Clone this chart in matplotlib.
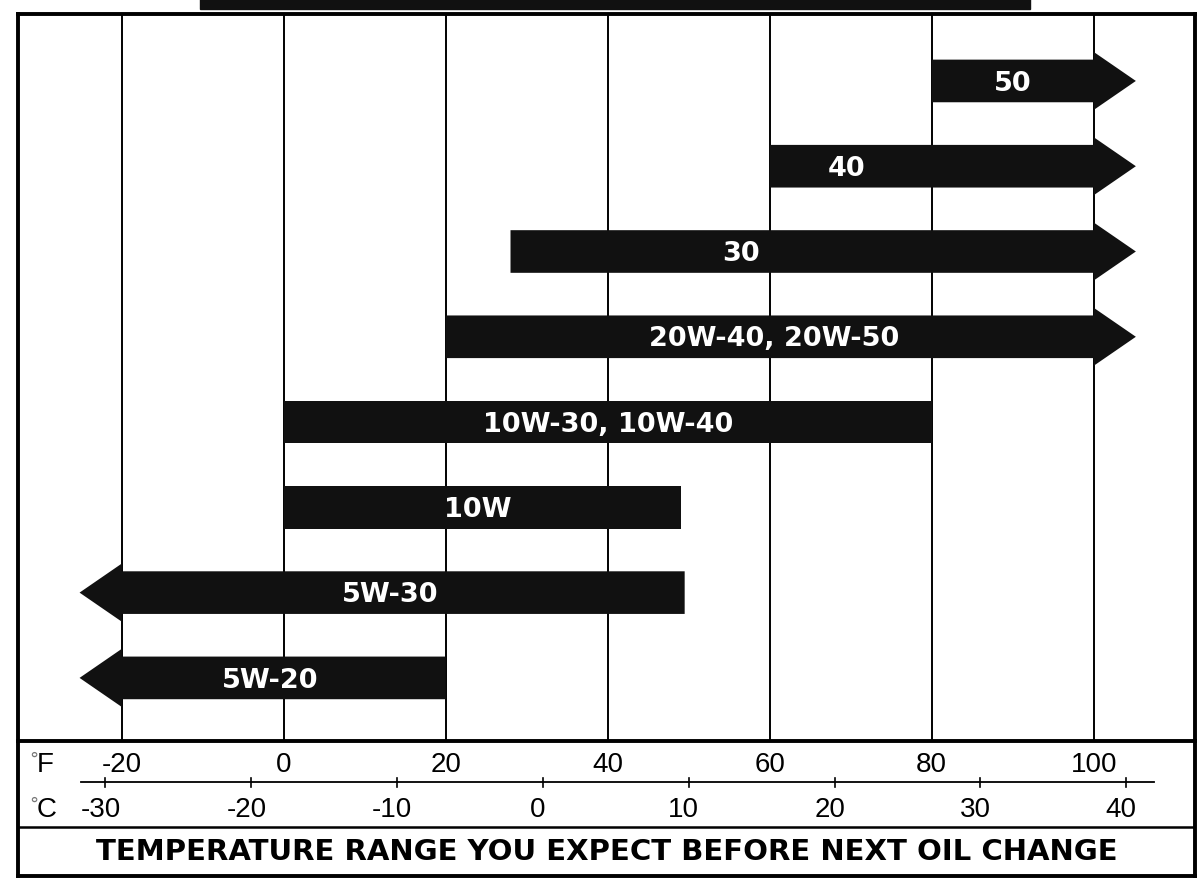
import numpy as np
import matplotlib.pyplot as plt
from matplotlib.patches import Rectangle

# oil grades, top to bottom
grades = ["50", "40", "30", "20W-40, 20W-50", "10W-30, 10W-40", "10W", "5W-30", "5W-20"]
start_f = [80, 60, 28, 20, 0, 0, -20, -20]
end_f = [100, 100, 100, 100, 80, 49, 49.5, 20]
open_left = [False, False, False, False, False, False, True, True]
open_right = [True, True, True, True, False, False, False, False]
label_f = [90, 69.5, 56.5, 60.5, 40, 24, 13.1, -1.7]

f_ticks = [-20, 0, 20, 40, 60, 80, 100]
c_ticks = [-30, -20, -10, 0, 10, 20, 30, 40]
footer = "TEMPERATURE RANGE YOU EXPECT BEFORE NEXT OIL CHANGE"

W, H = 1204, 879
fig = plt.figure(figsize=(W / 100, H / 100), dpi=100)

# pixel box of the chart
x0, x1 = 18, 1195
y_top, y_mid, y_bot = 15, 742, 877
xlim = (-32.8, 112.5)

ax = fig.add_axes([x0 / W, 1 - y_mid / H, (x1 - x0) / W, (y_mid - y_top) / H])
axs = fig.add_axes([x0 / W, 1 - y_bot / H, (x1 - x0) / W, (y_bot - y_mid) / H], sharex=ax)
axs.patch.set_visible(False)

n = len(grades)
ax.set_xlim(*xlim)
ax.set_ylim(n - 0.26, -0.785)
for f in f_ticks:
    ax.axvline(f, color="black", lw=1.4, zorder=1)

bh = 0.25   # half height of a bar
hh = 0.34   # half height of an arrow head
hl = 5.2    # arrow head length (deg F)

for i in range(n):
    a, b = start_f[i], end_f[i]
    xs = [a, b]
    ys = [i - bh, i - bh]
    if open_right[i]:
        xs += [b, b + hl, b, b]
        ys += [i - hh, i, i + hh, i + bh]
    else:
        xs += [b]
        ys += [i + bh]
    xs += [a]
    ys += [i + bh]
    if open_left[i]:
        xs += [a, a - hl, a]
        ys += [i + hh, i, i - hh]
    ax.fill(xs, ys, color="#111111", lw=0, zorder=2)
    ax.text(label_f[i], i + 0.02, grades[i], color="white", fontsize=19.5,
            fontweight="bold", ha="center", va="center", zorder=3)

ax.set_xticks([])
ax.set_yticks([])
for s in ax.spines.values():
    s.set_linewidth(2.8)

# lower scale panel, y in pixels from the bottom border
axs.set_ylim(0, y_bot - y_mid)
axs.set_xticks([])
axs.set_yticks([])
for s in axs.spines.values():
    s.set_linewidth(2.8)
axs.spines["top"].set_visible(False)

def c_to_f(c):
    return c * 9 / 5 + 32

tick_font = dict(fontsize=20, family="Liberation Sans", va="center")
axs.text(-31.4, 117, "°", fontsize=13, color="#777777", ha="left", va="center")
axs.text(-30.5, 112, "F", ha="left", **tick_font)
axs.text(-31.4, 72, "°", fontsize=13, color="#777777", ha="left", va="center")
axs.text(-30.5, 67, "C", ha="left", **tick_font)
for f in f_ticks:
    axs.text(f, 112, str(f), ha="center", **tick_font)

axs.plot([-25, 107.5], [94, 94], color="black", lw=1.3)
for c in c_ticks:
    fc = c_to_f(c)
    axs.plot([fc, fc], [89, 98], color="black", lw=1.2)
    axs.text(fc - 0.6, 67, str(c), ha="center", **tick_font)

axs.axhline(49, color="black", lw=1.8)
axs.text(np.mean(xlim), 25, footer, fontsize=21, fontweight="bold", ha="center", va="center")

# black strip from the cropped title above the box
fig.patches.append(Rectangle((200 / W, 1 - 10 / H), 830 / W, 10 / H,
                             transform=fig.transFigure, color="#111111", zorder=5))

fig.savefig("out.png", dpi=100)
